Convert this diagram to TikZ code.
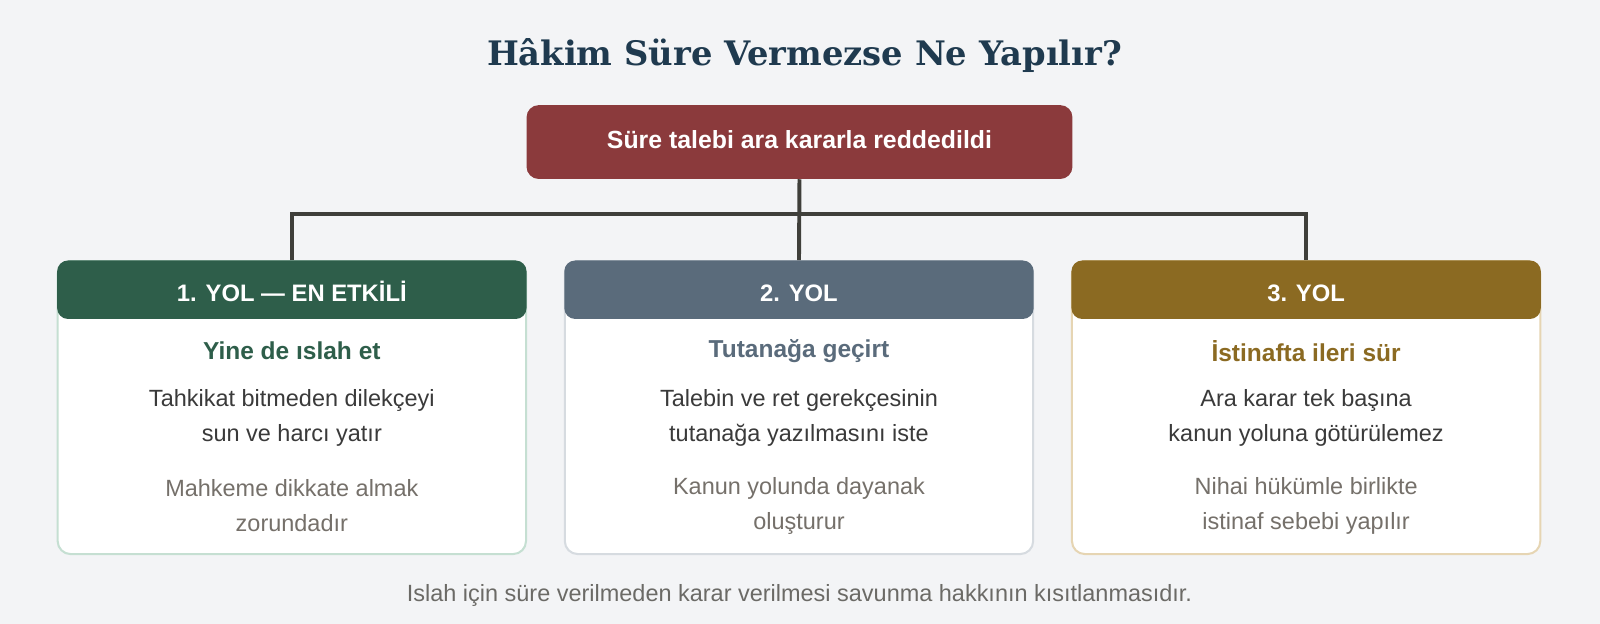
\documentclass[tikz,border=0pt]{standalone}
\usepackage{fontspec}
\setmainfont{Liberation Sans}
\newfontfamily\titlefont{DejaVu Serif}
\usetikzlibrary{positioning}
\definecolor{bgc}{HTML}{F3F4F6}
\definecolor{titlec}{HTML}{1F3A4F}
\definecolor{redc}{HTML}{8B3A3C}
\definecolor{linec}{HTML}{3F3F3A}
\definecolor{greenc}{HTML}{2E5E4A}
\definecolor{greenb}{HTML}{C5DFD2}
\definecolor{slatec}{HTML}{5A6B7B}
\definecolor{slateb}{HTML}{D6DBE0}
\definecolor{goldc}{HTML}{8B6A22}
\definecolor{goldb}{HTML}{E6D5B3}
\definecolor{bodyc}{HTML}{3A3A3A}
\definecolor{mutedc}{HTML}{75706A}
\definecolor{footc}{HTML}{6B6A66}

\begin{document}
\begin{tikzpicture}[x=0.75pt, y=-0.75pt, node distance=372.75pt,
    card/.style={rectangle, rounded corners=9.5pt, fill=white, line width=1.5pt, minimum width=344.25pt, minimum height=215.25pt},
    head/.style={rectangle, rounded corners=8pt, anchor=north, minimum width=345pt, minimum height=43pt, text height=17.2pt, text depth=0pt, text=white, font=\fontsize{17.5}{20}\selectfont\bfseries},
    sub/.style={font=\fontsize{18}{21}\selectfont\bfseries},
    body/.style={align=center, text=bodyc, font=\fontsize{17.25}{25.5}\selectfont},
    muted/.style={align=center, text=mutedc, font=\fontsize{17.25}{25.5}\selectfont},
    link/.style={draw=linec, line width=2.9pt}]
          \useasboundingbox (0,0) rectangle (1568,611.5);
          \fill[bgc] (0,0) rectangle (1568,611.5);

          \node[anchor=base, text=titlec, font=\titlefont\fontsize{24.8}{28}\selectfont\bfseries] (title) at (788.5,64.5) {Hâkim Süre Vermezse Ne Yapılır?};
          \node[rectangle, rounded corners=9pt, fill=redc, minimum width=401.25pt, minimum height=54.3pt, text height=10pt, text depth=0pt, text=white, font=\fontsize{18.25}{21}\selectfont\bfseries] (top) at (783.5,139.2) {Süre talebi ara kararla reddedildi};

          \node[card, draw=greenb] (k1) at (286,399.5) {};
          \node[card, draw=slateb] (k2) [right of=k1] {};
          \node[card, draw=goldb] (k3) [right of=k2] {};

          \node[head, fill=greenc] (h1) at (k1.north) {1. YOL — EN ETKİLİ};
          \node[head, fill=slatec] (h2) at (k2.north) {2. YOL};
          \node[head, fill=goldc] (h3) at (k3.north) {3. YOL};

          \node[sub, text=greenc] (s1) at (286,344) {Yine de ıslah et};
          \node[sub, text=slatec] (s2) at (783,344) {Tutanağa geçirt};
          \node[sub, text=goldc] (s3) at (1280,344) {İstinafta ileri sür};

          \node[body] (b1) at (286,409.5) {Tahkikat bitmeden dilekçeyi\\sun ve harcı yatır};
          \node[body] (b2) at (783,409.5) {Talebin ve ret gerekçesinin\\tutanağa yazılmasını iste};
          \node[body] (b3) at (1280,409.5) {Ara karar tek başına\\kanun yoluna götürülemez};

          \node[muted] (m1) at (286,495.7) {Mahkeme dikkate almak\\zorundadır};
          \node[muted] (m2) at (783,495.7) {Kanun yolunda dayanak\\oluşturur};
          \node[muted] (m3) at (1280,495.7) {Nihai hükümle birlikte\\istinaf sebebi yapılır};

          \node[text=footc, font=\fontsize{17.25}{20}\selectfont] (foot) at (783.5,583.4) {Islah için süre verilmeden karar verilmesi savunma hakkının kısıtlanmasıdır.};

          \coordinate (j) at (783,210);
          \draw[link] (top.south) -- (h2.north);
          \draw[link] (h1.north) |- (j) -| (h3.north);
        \end{tikzpicture}
\end{document}
